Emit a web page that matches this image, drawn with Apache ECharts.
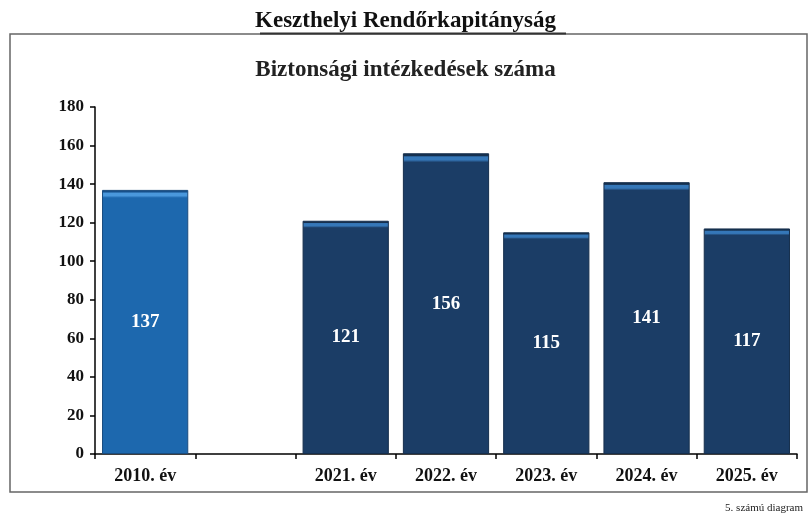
<!DOCTYPE html>
<html>
<head>
<meta charset="utf-8">
<script src="https://cdn.jsdelivr.net/npm/echarts@6/dist/echarts.min.js"></script>
<style>
  html, body { margin: 0; padding: 0; background: #fff; }
  #main { width: 811px; height: 515px; }
</style>
</head>
<body>
<div id="main"></div>
<script>
var categories = ['2010. év', '', '2021. év', '2022. év', '2023. év', '2024. év', '2025. év'];
var values = [137, '-', 121, 156, 115, 141, 117];
var yTicks = [0, 20, 40, 60, 80, 100, 120, 140, 160, 180];

var serif = '"Liberation Serif", "DejaVu Serif", serif';

// thin light stripe near the top of each bar, like the original 3D look
function barColor(light, base, edge) {
  return new echarts.graphic.LinearGradient(0, 0, 0, 1, [
    { offset: 0, color: edge },
    { offset: 0.008, color: edge },
    { offset: 0.012, color: light },
    { offset: 0.022, color: light },
    { offset: 0.03, color: base },
    { offset: 1, color: base }
  ]);
}

var chart = echarts.init(document.getElementById('main'));

var data = values.map(function (v, i) {
  if (i === 0) {
    return { value: v, itemStyle: { color: barColor('#4a98dc', '#1d68ae', '#17508a'), borderColor: '#1a4c7e' } };
  }
  return { value: v, itemStyle: { color: barColor('#3577b8', '#1b3d66', '#15304f'), borderColor: '#152e4c' } };
});

var option = {
  animation: false,
  backgroundColor: '#fff',
  title: [
    {
      text: 'Keszthelyi Rendőrkapitányság',
      left: 'center',
      top: 5,
      textStyle: { fontFamily: serif, fontWeight: 'bold', fontSize: 23, color: '#111' }
    },
    {
      text: 'Biztonsági intézkedések száma',
      left: 'center',
      top: 54,
      textStyle: { fontFamily: serif, fontWeight: 'bold', fontSize: 23, color: '#222' }
    },
    {
      text: '5. számú diagram',
      right: 3,
      top: 498,
      textStyle: { fontFamily: serif, fontWeight: 'normal', fontSize: 11, color: '#222' }
    }
  ],
  graphic: [
    {
      type: 'rect',
      shape: { x: 10, y: 34, width: 797, height: 458 },
      style: { fill: 'none', stroke: '#666', lineWidth: 1.5 },
      z: 0
    },
    {
      type: 'line',
      shape: { x1: 260, y1: 33.5, x2: 566, y2: 33.5 },
      style: { stroke: '#333', lineWidth: 2 },
      z: 1
    }
  ],
  grid: { left: 95, right: 14, top: 107, bottom: 61 },
  xAxis: {
    type: 'category',
    data: categories,
    axisLine: { lineStyle: { color: '#000', width: 1.5 } },
    axisTick: { show: true, length: 5, inside: false, lineStyle: { color: '#000', width: 1.5 } },
    axisLabel: { fontFamily: serif, fontWeight: 'bold', fontSize: 18, color: '#111', margin: 13 }
  },
  yAxis: {
    type: 'value',
    min: 0,
    max: 180,
    interval: 20,
    splitLine: { show: false },
    axisLine: { show: true, lineStyle: { color: '#000', width: 1.5 } },
    axisTick: { show: true, length: 5, lineStyle: { color: '#000', width: 1.5 } },
    axisLabel: {
      fontFamily: serif, fontWeight: 'bold', fontSize: 17, color: '#111', margin: 11,
      formatter: function (v) { return yTicks.indexOf(v) >= 0 ? String(v) : ''; }
    }
  },
  series: [
    {
      type: 'bar',
      data: data,
      barCategoryGap: '14%',
      itemStyle: { borderWidth: 1 },
      label: {
        show: true,
        position: 'inside',
        fontFamily: serif,
        fontWeight: 'bold',
        fontSize: 19,
        color: '#fff'
      }
    }
  ]
};

chart.setOption(option);
</script>
</body>
</html>
